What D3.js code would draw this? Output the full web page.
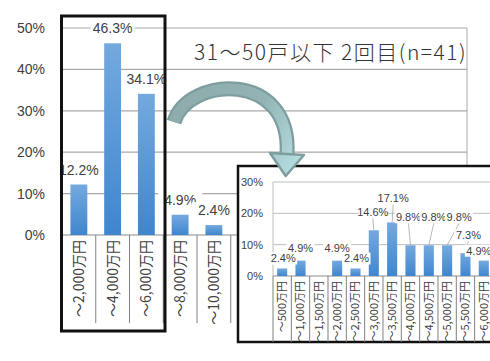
<!DOCTYPE html>
<html>
<head>
<meta charset="utf-8">
<script src="https://cdn.jsdelivr.net/npm/d3@7"></script>
<style>
  body { margin: 0; background: #fff; }
  svg { display: block; }
  text { fill: #404040; }
</style>
</head>
<body>
<svg id="chart" width="490" height="361"></svg>
<script>
// main chart: 2,000万円 steps
var mainCats = ["～2,000万円", "～4,000万円", "～6,000万円", "～8,000万円", "～10,000万円"]
var mainVals = [12.2, 46.3, 34.1, 4.9, 2.4]
var mainTicks = [0, 10, 20, 30, 40, 50]

// inset: 500万円 steps
var subCats = ["～500万円", "～1,000万円", "～1,500万円", "～2,000万円", "～2,500万円", "～3,000万円",
               "～3,500万円", "～4,000万円", "～4,500万円", "～5,000万円", "～5,500万円", "～6,000万円"]
var subVals = [2.4, 4.9, 0, 4.9, 2.4, 14.6, 17.1, 9.8, 9.8, 9.8, 7.3, 4.9]
var subTicks = [0, 10, 20, 30]

var title = "31～50戸以下 2回目(n=41)"

// label nudges in the inset (Excel moved them apart), [dx, dy]
var subNudge = [[1, 0], [0, -3], [0, 0], [0, -3], [1, 0], [-1, -8],
                [1, -14], [-2, -18], [5, -18], [12, -18], [3, -8], [-5, 0]]

var svg = d3.select("#chart")
var defs = svg.append("defs")

var grad = defs.append("linearGradient").attr("id", "bar").attr("x1", 0).attr("y1", 0).attr("x2", 0).attr("y2", 1)
grad.append("stop").attr("offset", "0%").attr("stop-color", "#74a9de")
grad.append("stop").attr("offset", "100%").attr("stop-color", "#3f86cf")

var fontNum = "'Liberation Sans', Arial, sans-serif"
var fontJp = "'Noto Sans CJK JP', sans-serif"

// ---------- main chart ----------
var x = d3.scaleBand().domain(mainCats).range([62, 62 + 33.75 * mainCats.length]).paddingInner(0.5).paddingOuter(0.25)
var y = d3.scaleLinear().domain([0, 50]).range([235, 28])
var plotRight = 467

var main = svg.append("g")

main.selectAll("line.grid")
    .data(mainTicks)
    .enter()
    .append("line")
    .attr("x1", 62).attr("x2", plotRight)
    .attr("y1", d => y(d)).attr("y2", d => y(d))
    .style("stroke", d => d === 0 ? "#8a8a8a" : "#a8a8a8")
    .style("stroke-width", 1.2)

main.append("line")
    .attr("x1", plotRight).attr("x2", plotRight)
    .attr("y1", y(50)).attr("y2", y(0))
    .style("stroke", "#a8a8a8")

main.append("g")
    .attr("transform", "translate(45,0)")
    .call(d3.axisLeft(y).tickValues(mainTicks).tickSize(0).tickPadding(0).tickFormat(d => d + "%"))
    .call(g => g.select(".domain").remove())
    .selectAll("text")
    .style("font-family", fontNum)
    .style("font-size", "14px")
    .style("fill", "#404040")

// category separators
var step = x.step()
var bounds = mainCats.map((d, i) => 62 + i * step).concat([62 + mainCats.length * step])
main.selectAll("line.sep")
    .data(bounds)
    .enter()
    .append("line")
    .attr("x1", d => d).attr("x2", d => d)
    .attr("y1", y(0)).attr("y2", 323)
    .style("stroke", "#808080")

main.selectAll("rect.bar")
    .data(mainVals)
    .enter()
    .append("rect")
    .attr("x", (d, i) => x(mainCats[i]))
    .attr("width", x.bandwidth())
    .attr("y", d => y(d))
    .attr("height", d => y(0) - y(d))
    .style("fill", "url(#bar)")

var mLabels = main.selectAll("g.lab")
    .data(mainVals)
    .enter()
    .append("g")
    .attr("transform", (d, i) => "translate(" + (x(mainCats[i]) + x.bandwidth() / 2) + "," + (y(d) - 15) + ")")
mLabels.append("rect")
    .attr("x", -22).attr("y", -8).attr("width", 44).attr("height", 16)
    .style("fill", "#fff")
mLabels.append("text")
    .attr("text-anchor", "middle")
    .attr("dy", "0.36em")
    .style("font-family", fontNum)
    .style("font-size", "14px")
    .text(d => d + "%")

main.selectAll("text.cat")
    .data(mainCats)
    .enter()
    .append("text")
    .attr("transform", d => "translate(" + (x(d) + x.bandwidth() / 2) + ",240) rotate(-90)")
    .attr("text-anchor", "end")
    .attr("dy", "0.36em")
    .style("font-family", fontJp)
    .style("font-size", "14px")
    .text(d => d)

main.append("text")
    .attr("x", 194).attr("y", 60)
    .style("font-family", fontJp)
    .style("font-size", "21px")
    .style("font-weight", 300)
    .style("letter-spacing", "1.5px")
    .style("fill", "#333")
    .text(title)

// highlight box
svg.append("rect")
    .attr("x", 61.5).attr("y", 16).attr("width", 103.5).attr("height", 315)
    .style("fill", "none").style("stroke", "#111").style("stroke-width", 3)

// ---------- inset ----------
var inset = svg.append("g")
inset.append("rect")
    .attr("x", 238).attr("y", 166).attr("width", 270).attr("height", 176)
    .style("fill", "#fff").style("stroke", "#111").style("stroke-width", 2.5)

var sx = d3.scaleBand().domain(subCats).range([273, 273 + 18.33 * subCats.length]).paddingInner(0.45).paddingOuter(0.225)
var sy = d3.scaleLinear().domain([0, 30]).range([276, 182])

inset.selectAll("line.grid")
    .data(subTicks)
    .enter()
    .append("line")
    .attr("x1", 273).attr("x2", 490)
    .attr("y1", d => sy(d)).attr("y2", d => sy(d))
    .style("stroke", d => d === 0 ? "#8a8a8a" : "#bdbdbd")

inset.append("line")
    .attr("x1", 273).attr("x2", 273).attr("y1", sy(30)).attr("y2", sy(0))
    .style("stroke", "#bdbdbd")

inset.append("g")
    .attr("transform", "translate(263,0)")
    .call(d3.axisLeft(sy).tickValues(subTicks).tickSize(0).tickPadding(0).tickFormat(d => d + "%"))
    .call(g => g.select(".domain").remove())
    .selectAll("text")
    .style("font-family", fontNum)
    .style("font-size", "11px")
    .style("fill", "#404040")

var sstep = sx.step()
var sbounds = subCats.map((d, i) => 273 + i * sstep).concat([273 + subCats.length * sstep])
inset.selectAll("line.sep")
    .data(sbounds)
    .enter()
    .append("line")
    .attr("x1", d => d).attr("x2", d => d)
    .attr("y1", sy(0)).attr("y2", 342)
    .style("stroke", "#808080")

inset.selectAll("rect.bar")
    .data(subVals)
    .enter()
    .append("rect")
    .attr("x", (d, i) => sx(subCats[i]))
    .attr("width", sx.bandwidth())
    .attr("y", d => sy(d))
    .attr("height", d => sy(0) - sy(d))
    .style("fill", "url(#bar)")

// data labels with leader lines
subVals.forEach(function(v, i) {
    if (v === 0) return
    var bx = sx(subCats[i]) + sx.bandwidth() / 2
    var lx = bx + subNudge[i][0]
    var ly = sy(v) - 10 + subNudge[i][1]
    if (subNudge[i][1] < -5) {
        inset.append("line")
            .attr("x1", lx).attr("y1", ly + 6)
            .attr("x2", bx).attr("y2", sy(v))
            .style("stroke", "#a6a6a6").style("stroke-width", 0.8)
    }
    inset.append("rect")
        .attr("x", lx - 14).attr("y", ly - 6).attr("width", 28).attr("height", 12)
        .style("fill", "#fff")
    inset.append("text")
        .attr("x", lx).attr("y", ly)
        .attr("text-anchor", "middle")
        .attr("dy", "0.36em")
        .style("font-family", fontNum)
        .style("font-size", "11px")
        .text(v + "%")
})

inset.selectAll("text.cat")
    .data(subCats)
    .enter()
    .append("text")
    .attr("transform", d => "translate(" + (sx(d) + sx.bandwidth() / 2) + ",281) rotate(-90)")
    .attr("text-anchor", "end")
    .attr("dy", "0.36em")
    .style("font-family", fontJp)
    .style("font-size", "11px")
    .text(d => d)

// ---------- curved arrow ----------
var p0 = [174, 122], c1 = [188, 76], c2 = [292, 70], p1 = [287, 154]
var agrad = defs.append("linearGradient").attr("id", "arrow").attr("gradientUnits", "userSpaceOnUse")
    .attr("x1", 170).attr("y1", 100).attr("x2", 300).attr("y2", 175)
agrad.append("stop").attr("offset", "0%").attr("stop-color", "#8eabab")
agrad.append("stop").attr("offset", "55%").attr("stop-color", "#93b4b4")
agrad.append("stop").attr("offset", "100%").attr("stop-color", "#b9e2e6")

var body = d3.path()
body.moveTo(p0[0], p0[1])
body.bezierCurveTo(c1[0], c1[1], c2[0], c2[1], p1[0], p1[1])

var arrow = svg.append("g")
arrow.append("path").attr("d", body.toString())
    .style("fill", "none").style("stroke", "#7e9d9e").style("stroke-width", 15)
arrow.append("path").attr("d", body.toString())
    .style("fill", "none").style("stroke", "url(#arrow)").style("stroke-width", 10.5)

var tx = p1[0] - c2[0], ty = p1[1] - c2[1]
var tl = Math.sqrt(tx * tx + ty * ty)
tx /= tl; ty /= tl
var head = [
    [p1[0] - ty * 17, p1[1] + tx * 17],
    [p1[0] + tx * 22, p1[1] + ty * 22],
    [p1[0] + ty * 17, p1[1] - tx * 17]
]
arrow.append("path")
    .attr("d", d3.line()(head) + "Z")
    .style("fill", "url(#arrow)").style("stroke", "#7e9d9e").style("stroke-width", 2.5)
    .style("stroke-linejoin", "round")
</script>
</body>
</html>
